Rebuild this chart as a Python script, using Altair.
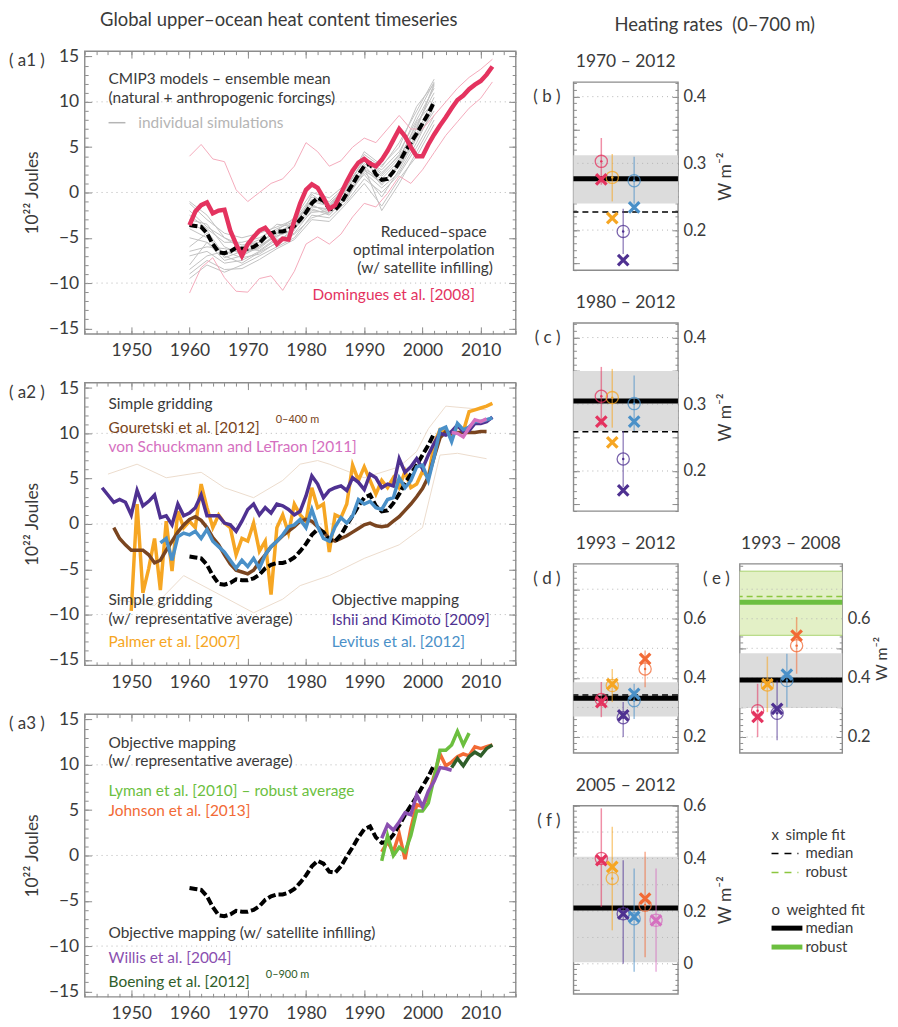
import altair as alt
import pandas as pd

# ------------------------------------------------------------------ data
# (a1) CMIP3 ensemble mean (black dashed), 1960-2002
MEAN_YEARS = list(range(1960, 2003))
CMIP_MEAN = [-3.6, -3.7, -3.8, -4.5, -5.7, -6.6, -6.7, -6.5, -6.1, -6.2,
             -6.2, -6.0, -5.6, -4.9, -4.5, -4.3, -4.3, -4.1, -3.7, -3.0,
             -2.2, -1.2, -0.6, -0.9, -1.8, -1.9, -1.2, -0.1, 0.9, 2.0,
             2.9, 3.2, 2.0, 1.4, 1.5, 2.3, 3.3, 4.5, 5.5, 6.5,
             7.6, 8.7, 10.0]

# individual simulations (grey)
SIM_YEARS = [1960, 1963, 1966, 1969, 1972, 1975, 1978, 1981, 1984, 1987, 1990, 1993, 1996, 1999, 2002]
SIMS = {
    "s1": [-1.2, -3.0, -4.5, -5.0, -4.5, -3.8, -3.0, -0.5, -1.0, 0.8, 3.5, 2.5, 4.5, 8.0, 11.5],
    "s2": [-9.5, -8.0, -8.8, -8.0, -7.0, -6.0, -5.0, -2.5, -2.8, -1.0, 1.5, 0.0, 2.0, 5.0, 8.5],
    "s3": [-5.0, -5.5, -7.5, -7.0, -6.0, -4.8, -4.0, -1.8, -2.5, -0.5, 2.5, 1.0, 3.0, 6.5, 10.5],
    "s4": [-2.5, -4.0, -5.5, -5.5, -5.0, -4.0, -3.2, -0.8, -1.2, 0.5, 3.8, 2.2, 4.0, 7.0, 12.0],
    "s5": [-7.0, -6.5, -7.8, -7.5, -6.5, -5.2, -4.5, -2.0, -2.2, -0.2, 2.0, -0.5, 2.5, 6.0, 9.0],
    "s6": [-3.0, -3.5, -6.0, -6.8, -6.0, -4.5, -3.5, -1.0, -1.5, 0.2, 3.2, 1.8, 3.8, 7.5, 11.0],
    "s7": [-8.5, -7.0, -6.5, -7.2, -6.8, -5.5, -4.0, -2.2, -2.0, -0.8, 2.8, -2.0, 1.0, 4.5, 8.0],
    "s8": [-4.0, -5.0, -6.8, -6.0, -5.2, -3.5, -3.8, -1.5, -2.0, 0.0, 2.6, 1.5, 3.5, 7.8, 10.0],
    "s9": [-6.0, -4.5, -7.2, -6.5, -5.8, -4.8, -4.2, -0.2, -1.6, 0.9, 4.2, 2.8, 5.5, 9.0, 12.5],
    "s10": [-2.0, -3.8, -5.0, -6.2, -6.4, -5.0, -3.0, -1.3, -2.4, -0.6, 2.2, 0.5, 2.2, 5.5, 9.5],
    "s11": [-1.0, -2.5, -5.0, -5.8, -5.5, -4.2, -2.8, 0.0, -0.6, 1.0, 4.5, 3.0, 5.0, 9.5, 12.0],
    "s12": [-9.0, -7.5, -8.5, -8.4, -7.4, -6.2, -5.2, -3.0, -3.2, -1.2, 1.0, -1.5, 1.5, 4.0, 7.5],
    "s13": [-6.5, -6.0, -6.2, -6.6, -6.2, -4.6, -3.6, -1.6, -1.8, 0.4, 3.0, 0.8, 3.2, 7.2, 11.8],
    "s14": [-3.5, -4.2, -7.0, -7.8, -6.6, -5.6, -4.6, -2.8, -2.2, -0.3, 2.4, 1.2, 2.8, 6.2, 9.8],
    "s15": [-8.0, -5.5, -6.8, -6.0, -5.5, -4.4, -3.4, -0.8, -1.4, 0.6, 3.6, 2.0, 4.2, 8.5, 12.2],
}

# Domingues et al. [2008]
DOM_YEARS = list(range(1960, 2013))
DOM = [-3.6, -2.1, -1.4, -1.1, -2.3, -2.0, -1.9, -4.2, -5.7, -7.0,
       -5.7, -4.9, -4.2, -3.9, -4.7, -5.7, -5.1, -5.2, -3.1, -1.2,
       0.3, 0.9, 0.5, -0.6, -1.8, -1.4, -0.1, 1.2, 2.4, 3.3,
       3.7, 3.2, 2.9, 3.6, 4.6, 5.8, 7.0, 6.2, 5.0, 4.0,
       4.0, 5.3, 6.4, 7.4, 8.3, 9.3, 10.2, 10.7, 11.4, 11.9,
       12.3, 13.0, 13.9]
ENV_YEARS = list(range(1960, 2013, 2))
DOM_HI = [4.0, 5.3, 3.7, 3.4, 0.3, -1.0, 0.0, 1.0, 1.5, 2.9, 5.5, 4.5, 2.9, 3.5,
          5.0, 6.0, 5.5, 7.0, 8.5, 7.0, 7.0, 8.5, 10.0, 11.5, 12.7, 13.6, 14.7]
DOM_LO = [-11.1, -8.3, -7.2, -9.4, -10.9, -11.0, -9.5, -9.2, -10.8, -8.7, -5.7, -4.9, -5.7, -4.6,
          -2.7, -1.2, -1.6, -0.1, 1.8, 1.0, 2.5, 4.4, 6.3, 7.8, 9.3, 10.4, 12.2]

# (a2) Ishii and Kimoto [2009]
ISHII_YEARS = list(range(1945, 2013))
ISHII = [4.0, 3.2, 2.4, 2.7, 2.4, 1.0, 3.7, 2.0, 2.5, 3.2,
         0.7, 0.9, -0.1, 2.2, 0.9, 1.2, 1.8, 3.2, 0.9, 0.9,
         0.9, 0.1, -0.1, -0.8, 0.3, 1.6, 2.2, 1.0, 1.8, 1.2,
         2.2, 2.0, 1.6, 1.0, 1.4, 3.1, 5.3, 4.4, 2.9, 3.7,
         4.0, 4.2, 3.7, 5.1, 4.6, 3.8, 5.5, 5.1, 4.0, 4.4,
         4.2, 7.2, 5.7, 6.3, 7.2, 6.1, 7.6, 8.9, 10.0, 9.8,
         10.2, 10.9, 10.2, 10.3, 11.1, 11.1, 11.3, 11.8]
# Palmer et al. [2007]
PALMER_YEARS = list(range(1950, 2013))
PALMER = [-9.6, 2.2, -7.6, -4.9, -1.6, -7.3, 0.3, -5.2, 1.4, -0.4,
          0.3, -0.4, 4.4, 1.8, -0.4, 1.0, 0.1, -0.4, -3.4, -1.6,
          -1.9, 0.1, -3.0, -1.9, -7.8, -0.4, 1.0, -1.0, 2.2, 1.0,
          0.3, 4.0, 1.8, 2.2, -3.1, 1.0, 0.7, 2.2, 6.5, 4.8,
          6.3, 4.8, 3.3, 4.8, 4.0, 5.1, 4.0, 5.8, 4.0, 4.4,
          5.8, 5.1, 8.9, 10.4, 10.2, 9.6, 10.9, 10.2, 12.4, 12.6,
          12.8, 13.0, 13.3]
# Gouretski et al. [2012]
GOUR_YEARS = list(range(1947, 2012))
GOUR = [-0.4, -1.6, -2.3, -2.9, -2.9, -2.9, -3.4, -4.3, -4.0, -2.9,
        -1.9, -0.9, -0.1, 0.5, 0.8, 0.4, -0.4, -1.5, -2.3, -3.4,
        -4.4, -5.1, -5.3, -5.5, -5.1, -4.2, -3.4, -2.5, -1.9, -1.3,
        -0.8, -0.3, 0.3, 0.5, 0.3, -0.3, -0.9, -1.6, -1.9, -1.6,
        -1.3, -0.9, -0.5, -0.1, 0.1, -0.2, -0.3, -0.2, 0.3, 0.8,
        1.5, 2.2, 3.0, 3.9, 5.2, 7.4, 9.5, 10.2, 10.0, 10.1,
        10.1, 10.1, 10.1, 10.2, 10.2]
GOUR_HI_YEARS = [1946, 1951, 1956, 1962, 1966, 1971, 1976, 1979, 1982, 1984, 1990, 1996, 1999, 2001, 2004, 2011]
GOUR_HI = [5.5, 6.6, 5.1, 5.7, 4.0, 2.9, 4.8, 6.6, 7.0, 6.6, 5.1, 6.3, 8.0, 10.5, 13.0, 12.6]
GOUR_LO_YEARS = [1947, 1954, 1959, 1964, 1971, 1976, 1979, 1984, 1990, 1996, 2000, 2003, 2006, 2011]
GOUR_LO = [-8.3, -9.0, -5.7, -7.4, -9.8, -8.3, -6.8, -5.7, -3.8, -2.3, -0.4, 7.6, 7.8, 7.2]
# Levitus et al. [2012]
LEV_YEARS = list(range(1955, 2013))
LEV = [-2.1, -1.6, -4.0, -1.4, -1.0, -1.2, -0.8, -1.6, -0.6, -1.9,
       -2.5, -3.1, -4.0, -4.9, -4.0, -4.7, -3.8, -4.9, -3.4, -2.5,
       -1.9, -1.2, -0.3, -0.1, 0.5, -0.4, 1.6, -0.3, -1.6, -1.9,
       -0.3, 0.7, 0.1, 0.9, 2.7, 2.2, 2.5, 1.8, 1.6, 2.7,
       2.9, 5.1, 4.0, 4.8, 6.3, 6.5, 4.8, 7.4, 10.4, 10.7,
       9.1, 11.1, 10.4, 10.7, 11.3, 11.3, 11.5, 11.7]
# von Schuckmann and LeTraon [2011]
VSCH_YEARS = list(range(2005, 2012))
VSCH = [10.1, 10.0, 9.6, 10.6, 11.5, 11.3, 11.6]

# (a3)
LYMAN_YEARS = list(range(1993, 2009))
LYMAN = [-0.6, 2.2, 0.0, 0.9, 0.4, 2.2, 4.9, 4.9, 5.8, 8.6, 11.6, 11.6, 12.2, 13.7, 12.2, 13.5]
JOHNSON_YEARS = list(range(1993, 2013))
JOHNSON = [0.4, 1.5, 0.4, 2.4, -0.4, 3.0, 5.6, 5.4, 6.6, 8.8, 11.2, 9.9, 10.3, 10.9, 11.2, 11.0, 12.0, 11.8, 12.0, 12.2]
WILLIS_YEARS = list(range(1993, 2006))
WILLIS = [1.9, 3.4, 2.8, 3.7, 4.7, 4.5, 6.7, 5.4, 7.1, 8.2, 9.7, 9.6, 9.4]
BOEN_YEARS = list(range(2005, 2013))
BOEN = [9.7, 10.7, 9.9, 10.9, 11.4, 11.0, 11.8, 12.2]

# heating rates (W m-2)
DATASETS = ["Domingues", "Palmer", "Ishii", "Levitus", "Johnson", "vonSchuckmann"]
B_CIRC = [0.303, 0.279, 0.198, 0.274]
B_X = [0.276, 0.218, 0.155, 0.234]
B_LO = [0.268, 0.243, 0.164, 0.237]
B_HI = [0.338, 0.314, 0.232, 0.310]
B_MED, B_BAND, B_DMED = 0.277, [0.240, 0.312], 0.227

C_CIRC = [0.312, 0.310, 0.218, 0.301]
C_X = [0.274, 0.243, 0.171, 0.274]
C_LO = [0.268, 0.265, 0.176, 0.260]
C_HI = [0.356, 0.353, 0.260, 0.343]
C_MED, C_BAND, C_DMED = 0.305, [0.260, 0.350], 0.259

D_CIRC = [0.327, 0.374, 0.265, 0.323, 0.430]
D_X = [0.318, 0.379, 0.273, 0.346, 0.464]
D_LO = [0.267, 0.318, 0.200, 0.261, 0.368]
D_HI = [0.386, 0.430, 0.318, 0.380, 0.493]
D_MED, D_BAND, D_DMED = 0.331, [0.269, 0.385], 0.342

E_CIRC = [0.289, 0.376, 0.280, 0.391, 0.509]
E_X = [0.268, 0.379, 0.295, 0.411, 0.543]
E_LO = [0.200, 0.284, 0.189, 0.301, 0.414]
E_HI = [0.380, 0.472, 0.391, 0.482, 0.606]
E_MED, E_BAND = 0.393, [0.298, 0.483]
E_ROB, E_ROB_BAND, E_DROB = 0.656, [0.544, 0.761], 0.675

F_CIRC = [0.400, 0.324, 0.190, 0.171, 0.222, 0.165]
F_X = [0.393, 0.368, 0.190, 0.178, 0.247, 0.165]
F_LO = [0.216, 0.127, 0.000, -0.030, 0.025, -0.030]
F_HI = [0.590, 0.520, 0.393, 0.362, 0.425, 0.362]
F_MED, F_BAND = 0.212, [0.006, 0.406]

# ------------------------------------------------------------------ style
FONT = "Lato"
TXT = "#3a3a3a"
FRAME = "#8c8c8c"
PINK = "#e4335f"
ORANGE = "#f6a623"
PURPLE = "#4f3191"
BLUE = "#4a90c8"
BROWN = "#7a4520"
VIOLET = "#d570c0"
LGREEN = "#6cbf3f"
RORANGE = "#f26a35"
WPURPLE = "#8a4fb0"
DGREEN = "#2f5e2a"
DS_COLORS = [PINK, ORANGE, PURPLE, BLUE, RORANGE, VIOLET]
ANN = 15.5  # annotation font size

XS = alt.Scale(domain=[1942, 2016], nice=False, zero=False)
YS = alt.Scale(domain=[-15.6, 15.6], nice=False, zero=False)
LW, LH = 433, 284


def tick_axis(orient, values, size):
    return alt.Axis(orient=orient, values=values, labels=False, ticks=True, tickSize=size,
                    offset=-size, domain=False, grid=False, title=None,
                    tickColor=FRAME, tickWidth=1)


def line(years, vals, color, width, dash=None, opacity=1.0):
    df = pd.DataFrame({"year": years, "v": vals})
    kw = dict(color=color, strokeWidth=width, opacity=opacity, clip=True)
    if dash:
        kw["strokeDash"] = dash
    return alt.Chart(df).mark_line(**kw).encode(
        x=alt.X("year:Q", scale=XS, axis=None), y=alt.Y("v:Q", scale=YS, axis=None))


def txt(x, y, s, color=TXT, size=ANN, align="left"):
    df = pd.DataFrame({"x": [x], "y": [y], "t": [s]})
    return alt.Chart(df).mark_text(align=align, baseline="middle", fontSize=size, color=color).encode(
        x=alt.X("x:Q", scale=XS, axis=None), y=alt.Y("y:Q", scale=YS, axis=None), text="t:N")


def ptxt(x, y, s, size=16, align="left", color=TXT, angle=None, clip=False):
    kw = dict(align=align, baseline="middle", fontSize=size, color=color, clip=clip)
    if angle is not None:
        kw["angle"] = angle
    return alt.Chart(pd.DataFrame({"t": [s]})).mark_text(**kw).encode(
        x=alt.value(x), y=alt.value(y), text="t:N")


def anchor(x1, x2, y):
    # white hairline used only to pin the layout box of a column
    return alt.Chart(pd.DataFrame({"v": [0]})).mark_rule(color="white", strokeWidth=1).encode(
        x=alt.value(x1), x2=alt.value(x2), y=alt.value(y))


def dummy_scales():
    return alt.Chart(pd.DataFrame({"u": [0.5]})).mark_point(opacity=0).encode(
        x=alt.X("u:Q", axis=None, scale=alt.Scale(domain=[0, 1])),
        y=alt.Y("u:Q", axis=None, scale=alt.Scale(domain=[0, 1])))


def mean_line():
    return line(MEAN_YEARS, CMIP_MEAN, "black", 4, dash=[8, 3])


def left_panel(label, layers, extra=None):
    decades = [1950, 1960, 1970, 1980, 1990, 2000, 2010]
    evens = list(range(1942, 2017, 2))
    yl = [-15, -10, -5, 0, 5, 10, 15]
    ym = list(range(-15, 16))
    xaxes = [
        alt.Axis(orient="bottom", values=decades, format="d", ticks=False, domain=False, grid=False,
                 title=None, labelFontSize=17.5, labelPadding=8, labelColor=TXT),
        tick_axis("bottom", decades, 7), tick_axis("bottom", evens, 3.5),
        tick_axis("top", decades, 7), tick_axis("top", evens, 3.5),
    ]
    yaxes = [
        alt.Axis(orient="left", values=yl, ticks=False, domain=False, grid=False,
                 title="10²² Joules", titleFontSize=17.5, titleFontWeight="normal", titlePadding=7,
                 labelFontSize=17.5, labelPadding=6, labelColor=TXT, titleColor=TXT),
        tick_axis("left", yl, 7), tick_axis("left", ym, 3.5),
        tick_axis("right", yl, 7), tick_axis("right", ym, 3.5),
    ]
    dummy = pd.DataFrame({"x": [1980], "y": [0]})
    axl = [alt.Chart(dummy).mark_point(opacity=0).encode(
        x=alt.X("x:Q", scale=XS, axis=xa), y=alt.Y("y:Q", scale=YS, axis=ya))
        for xa, ya in zip(xaxes, yaxes)]
    grid = alt.Chart(pd.DataFrame({"g": [10, 0, -10]})).mark_rule(
        color="#b5b5b5", strokeDash=[1, 4], strokeWidth=1).encode(y=alt.Y("g:Q", scale=YS, axis=None))
    lab = ptxt(-76, 10, label, size=17)
    allv = axl + [grid] + layers + [lab] + (extra or [])
    return alt.layer(*allv).resolve_axis(x="independent", y="independent").properties(width=LW, height=LH)


# ---- a1
sim_rows = []
for k, vals in SIMS.items():
    for yr, v in zip(SIM_YEARS, vals):
        sim_rows.append({"sim": k, "year": yr, "v": v})
sims = alt.Chart(pd.DataFrame(sim_rows)).mark_line(color="#c2c2c2", strokeWidth=1).encode(
    x=alt.X("year:Q", scale=XS, axis=None), y=alt.Y("v:Q", scale=YS, axis=None), detail="sim:N")
a1_layers = [
    sims,
    line(ENV_YEARS, DOM_HI, "#f4aabb", 1),
    line(ENV_YEARS, DOM_LO, "#f4aabb", 1),
    mean_line(),
    line(DOM_YEARS, DOM, PINK, 4.5),
    txt(1946.1, 12.5, "CMIP3 models – ensemble mean"),
    txt(1946.1, 10.45, "(natural + anthropogenic forcings)"),
    alt.Chart(pd.DataFrame({"x": [1946.1], "x2": [1949.0], "y": [7.7]})).mark_rule(
        color="#b5b5b5", strokeWidth=1.5).encode(
        x=alt.X("x:Q", scale=XS, axis=None), x2="x2:Q", y=alt.Y("y:Q", scale=YS, axis=None)),
    txt(1951.2, 7.7, "individual simulations", color="#b5b5b5"),
    txt(2011.0, -4.4, "Reduced–space", align="right"),
    txt(2012.4, -6.35, "optimal interpolation", align="right"),
    txt(2012.1, -8.35, "(w/ satellite infilling)", align="right"),
    txt(2009.0, -11.3, "Domingues et al. [2008]", color=PINK, align="right"),
]
a1 = left_panel("( a1 )", a1_layers,
                extra=[ptxt(195, -31, "Global upper–ocean heat content timeseries", size=18.5, align="center")])

# ---- a2
a2_layers = [
    line(GOUR_HI_YEARS, GOUR_HI, "#ecdccd", 1),
    line(GOUR_LO_YEARS, GOUR_LO, "#ecdccd", 1),
    line(PALMER_YEARS, PALMER, ORANGE, 3.5),
    line(GOUR_YEARS, GOUR, BROWN, 3.5),
    mean_line(),
    line(ISHII_YEARS, ISHII, PURPLE, 3.5),
    line(LEV_YEARS, LEV, BLUE, 3.5),
    line(VSCH_YEARS, VSCH, VIOLET, 3.5),
    txt(1946.1, 13.2, "Simple gridding"),
    txt(1946.1, 10.55, "Gouretski et al. [2012]", color=BROWN),
    txt(1974.8, 11.45, "0–400 m", color=BROWN, size=11),
    txt(1946.1, 8.45, "von Schuckmann and LeTraon [2011]", color=VIOLET),
    txt(1946.1, -8.35, "Simple gridding"),
    txt(1946.1, -10.45, "(w/ representative average)"),
    txt(1946.1, -13.05, "Palmer et al. [2007]", color=ORANGE),
    txt(1984.4, -8.35, "Objective mapping"),
    txt(1984.4, -10.55, "Ishii and Kimoto [2009]", color=PURPLE),
    txt(1984.4, -13.05, "Levitus et al. [2012]", color=BLUE),
]
a2 = left_panel("( a2 )", a2_layers)

# ---- a3
a3_layers = [
    mean_line(),
    line(JOHNSON_YEARS, JOHNSON, RORANGE, 3.5),
    line(LYMAN_YEARS, LYMAN, LGREEN, 3.5),
    line(WILLIS_YEARS, WILLIS, WPURPLE, 3.5),
    line(BOEN_YEARS, BOEN, DGREEN, 3.5),
    txt(1946.1, 12.4, "Objective mapping"),
    txt(1946.1, 10.4, "(w/ representative average)"),
    txt(1946.1, 7.15, "Lyman et al. [2010] – robust average", color=LGREEN),
    txt(1946.1, 4.85, "Johnson et al. [2013]", color=RORANGE),
    txt(1946.1, -8.55, "Objective mapping (w/ satellite infilling)"),
    txt(1946.1, -11.3, "Willis et al. [2004]", color=WPURPLE),
    txt(1946.1, -13.95, "Boening et al. [2012]", color=DGREEN),
    txt(1973.1, -13.2, "0–900 m", color=DGREEN, size=11),
]
a3 = left_panel("( a3 )", a3_layers)


# ------------------------------------------------------------------ rate panels
def rate_panel(title, label, circ, xs, lo, hi, med, band, dmed, ydom, labvals, major, minor,
               grid, ytitle, xrange, width, height, label_x, green=None, extra=None,
               title_pad=11, title_size=17.5):
    n = len(circ)
    df = pd.DataFrame({"ds": DATASETS[:n], "c": circ, "x": xs, "lo": lo, "hi": hi})
    YSc = alt.Scale(domain=ydom, nice=False, zero=False)
    XSc = alt.Scale(type="point", domain=DATASETS, range=xrange, padding=0)
    X = alt.X("ds:N", scale=XSc, axis=None)
    C = alt.Color("ds:N", scale=alt.Scale(domain=DATASETS, range=DS_COLORS), legend=None)

    def Y(f):
        return alt.Y(f, scale=YSc, axis=None)

    lab_axis_kw = dict(orient="right", values=labvals, format="~g", ticks=False, domain=False,
                       grid=False, labelFontSize=16.5, labelPadding=5, labelColor=TXT)
    if ytitle:
        lab_axis_kw.update(title="W m⁻²", titleFontSize=title_size, titleFontWeight="normal",
                           titleAngle=270, titleBaseline="top", titlePadding=title_pad,
                           titleColor=TXT)
    else:
        lab_axis_kw.update(title=None)
    yaxes = [alt.Axis(**lab_axis_kw),
             tick_axis("left", major, 6), tick_axis("left", minor, 3),
             tick_axis("right", major, 6), tick_axis("right", minor, 3)]
    dummy = pd.DataFrame({"ds": [DATASETS[0]], "y": [(ydom[0] + ydom[1]) / 2]})
    layers = [alt.Chart(dummy).mark_point(opacity=0).encode(
        x=X, y=alt.Y("y:Q", scale=YSc, axis=ya)) for ya in yaxes]
    layers.append(alt.Chart(pd.DataFrame({"lo": [band[0]], "hi": [band[1]]})).mark_rect(
        color="#dcdcdc").encode(y=Y("lo:Q"), y2="hi:Q", x=alt.value(0), x2=alt.value(width)))
    if green:
        gval, gband, gd = green
        layers.append(alt.Chart(pd.DataFrame({"lo": [gband[0]], "hi": [gband[1]]})).mark_rect(
            color="#e3f0c6").encode(y=Y("lo:Q"), y2="hi:Q", x=alt.value(0), x2=alt.value(width)))
        layers.append(alt.Chart(pd.DataFrame({"g": gband})).mark_rule(
            color="#a9d46f", strokeWidth=1).encode(y=Y("g:Q")))
    layers.append(alt.Chart(pd.DataFrame({"g": grid})).mark_rule(
        color="#b5b5b5", strokeDash=[1, 4], strokeWidth=1).encode(y=Y("g:Q")))
    if green:
        layers.append(alt.Chart(pd.DataFrame({"g": [gd]})).mark_rule(
            color="#8cc63f", strokeDash=[6, 4], strokeWidth=1.5).encode(y=Y("g:Q")))
        layers.append(alt.Chart(pd.DataFrame({"g": [gval]})).mark_rule(
            color=LGREEN, strokeWidth=5).encode(y=Y("g:Q")))
    if dmed is not None:
        layers.append(alt.Chart(pd.DataFrame({"g": [dmed]})).mark_rule(
            color="black", strokeDash=[6, 4], strokeWidth=1.5).encode(y=Y("g:Q")))
    layers.append(alt.Chart(pd.DataFrame({"g": [med]})).mark_rule(
        color="black", strokeWidth=5).encode(y=Y("g:Q")))
    base = alt.Chart(df)
    layers += [
        base.mark_rule(strokeWidth=1.5, opacity=0.55).encode(x=X, y=Y("lo:Q"), y2="hi:Q", color=C),
        base.mark_point(shape="circle", size=150, strokeWidth=1.3, filled=False, opacity=0.75).encode(
            x=X, y=Y("c:Q"), color=C),
        base.mark_point(shape="circle", size=6, filled=True, opacity=1).encode(x=X, y=Y("c:Q"), color=C),
        base.mark_point(shape="M-1,-1L1,1M-1,1L1,-1", size=110, strokeWidth=3.2, filled=False,
                        opacity=1).encode(x=X, y=Y("x:Q"), color=C),
        ptxt(width / 2, -20, title, size=17.5, align="center"),
        ptxt(label_x, 15, label, size=17, align="right"),
    ]
    layers += (extra or [])
    return alt.layer(*layers).resolve_axis(y="independent").properties(width=width, height=height)


def steps(a, b, s):
    out, v = [], a
    while v <= b + 1e-9:
        out.append(round(v, 3))
        v += s
    return out


RANGE6 = [28, 83]
b = rate_panel("1970 – 2012", "( b )", B_CIRC, B_X, B_LO, B_HI, B_MED, B_BAND, B_DMED,
               [0.14, 0.422], [0.2, 0.3, 0.4], steps(0.15, 0.4, 0.05), steps(0.14, 0.42, 0.01),
               [0.2, 0.3, 0.4], True, RANGE6, 105, 189, -13,
               extra=[ptxt(142, -57, "Heating rates\u00a0\u00a0(0–700 m)", size=18.5, align="center"),
                      anchor(-46, -44, 100)])
c = rate_panel("1980 – 2012", "( c )", C_CIRC, C_X, C_LO, C_HI, C_MED, C_BAND, C_DMED,
               [0.14, 0.422], [0.2, 0.3, 0.4], steps(0.15, 0.4, 0.05), steps(0.14, 0.42, 0.01),
               [0.2, 0.3, 0.4], True, RANGE6, 105, 189, -13)
d = rate_panel("1993 – 2012", "( d )", D_CIRC, D_X, D_LO, D_HI, D_MED, D_BAND, D_DMED,
               [0.146, 0.786], [0.2, 0.4, 0.6], steps(0.2, 0.7, 0.1), steps(0.16, 0.78, 0.02),
               steps(0.2, 0.7, 0.1), False, RANGE6, 105, 190, -13)
e = rate_panel("1993 – 2008", "( e )", E_CIRC, E_X, E_LO, E_HI, E_MED, E_BAND, None,
               [0.146, 0.786], [0.2, 0.4, 0.6], steps(0.2, 0.7, 0.1), steps(0.16, 0.78, 0.02),
               steps(0.2, 0.7, 0.1), True, [18, 67], 103, 190, -10,
               green=(E_ROB, E_ROB_BAND, E_DROB), title_pad=3, title_size=16)
f = rate_panel("2005 – 2012", "( f )", F_CIRC, F_X, F_LO, F_HI, F_MED, F_BAND, None,
               [-0.114, 0.6], [0, 0.2, 0.4, 0.6], steps(-0.1, 0.6, 0.1), steps(-0.1, 0.6, 0.02),
               steps(0.0, 0.5, 0.1), True, RANGE6, 105, 189, -13)


def spacer(w, h):
    return dummy_scales().properties(width=w, height=h, view=alt.ViewBackground(stroke="transparent"))


def lrule(x1, x2, y, color, width, dash=None):
    kw = dict(color=color, strokeWidth=width)
    if dash:
        kw["strokeDash"] = dash
    return alt.Chart(pd.DataFrame({"v": [0]})).mark_rule(**kw).encode(
        x=alt.value(x1), x2=alt.value(x2), y=alt.value(y))


legend = alt.layer(
    dummy_scales(),
    ptxt(32, 29, "x", size=15, clip=True),
    ptxt(46, 29, "simple fit", size=15, clip=True),
    lrule(32, 59, 48, "black", 1.5, [7, 6]),
    ptxt(66, 48, "median", size=15, clip=True),
    lrule(32, 59, 67, "#8cc63f", 1.5, [7, 6]),
    ptxt(66, 67, "robust", size=15, clip=True),
    ptxt(32, 105, "o", size=15, clip=True),
    ptxt(47, 105, "weighted fit", size=15, clip=True),
    lrule(32, 63, 123, "black", 5),
    ptxt(66, 123, "median", size=15, clip=True),
    lrule(32, 63, 142, LGREEN, 5),
    ptxt(66, 142, "robust", size=15, clip=True),
).properties(width=148, height=189, view=alt.ViewBackground(stroke="transparent"))

right_col = alt.concat(spacer(10, 17), spacer(10, 17), b, spacer(10, 189), c, spacer(10, 189),
                       d, e, f, legend,
                       columns=2, spacing={"row": 53, "column": 62}, bounds="flush", align="each")
left_col = alt.vconcat(spacer(10, 39), a1, spacer(10, 49), a2, spacer(10, 49), a3,
                       spacing=0, bounds="flush")

chart = alt.hconcat(left_col, right_col, spacing=8, bounds="full").properties(
    padding={"left": 0, "top": 0, "right": 0, "bottom": 0}
).configure(font=FONT).configure_view(stroke=FRAME, strokeWidth=1.4).configure_axis(
    labelFont=FONT, titleFont=FONT)

chart.save("out.html", embed_options={"renderer": "svg", "actions": False})
